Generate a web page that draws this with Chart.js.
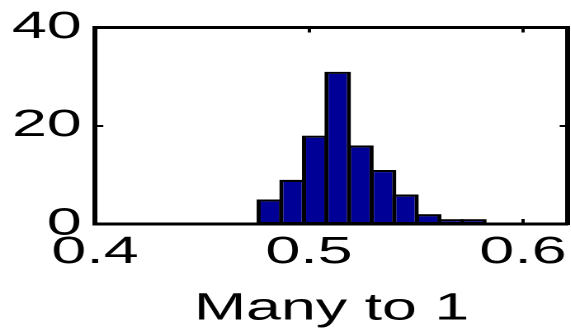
<!DOCTYPE html>
<html>
<head>
<meta charset="utf-8">
<script src="https://cdn.jsdelivr.net/npm/chart.js@4.4.1/dist/chart.umd.min.js"></script>
<style>
  html, body { margin: 0; padding: 0; background: #fff; overflow: hidden; }
  #wrap { width: 346px; height: 332px; transform: scaleX(1.65); transform-origin: 0 0; }
</style>
</head>
<body>
<div id="wrap"><canvas id="c" width="346" height="332"></canvas></div>
<script>
// ---- data ----
const binCenters = [0.4817, 0.4923, 0.5029, 0.5134, 0.5240, 0.5346, 0.5451, 0.5557, 0.5663, 0.5768];
const counts     = [5, 9, 18, 31, 16, 11, 6, 2, 1, 1];
const xTicks      = [0.4, 0.5, 0.6];
const xTickLabels = ['0.4', '0.5', '0.6'];
const yTicks      = [0, 20, 40];
const yTickLabels = ['0', '20', '40'];
const xTitle = 'Many to 1';
const xMin = 0.4, xMax = 0.621, yMin = 0, yMax = 40;

const FONT = { family: '"Liberation Sans", Arial, Helvetica, sans-serif', size: 38 };
const setTicks = (vals) => (s) => { s.ticks = vals.map(v => ({ value: v })); };
const labelFor = (vals, labels) => (v) => { const i = vals.findIndex(t => Math.abs(t - v) < 1e-9); return i >= 0 ? labels[i] : ''; };

const borderOpt = { display: true, color: '#000', width: 3 };
const gridOpt = { drawOnChartArea: false, drawTicks: true, tickLength: -5, tickWidth: 2, color: '#000', offset: false };

function build() {
  new Chart(document.getElementById('c'), {
    type: 'bar',
    data: {
      datasets: [{
        data: binCenters.map((x, i) => ({ x: x, y: counts[i] })),
        backgroundColor: 'rgb(0,0,150)',
        borderColor: '#000',
        borderWidth: { top: 2.2, left: 2.5, right: 2.5, bottom: 1.5 },
        borderSkipped: false,
        barPercentage: 1.18,
        categoryPercentage: 1.0,
        xAxisID: 'x',
        yAxisID: 'y'
      }]
    },
    options: {
      responsive: false,
      animation: false,
      devicePixelRatio: 2,
      layout: { padding: { left: 7.3, right: 1.8, top: 27.5, bottom: 0 } },
      plugins: { legend: { display: false }, tooltip: { enabled: false } },
      scales: {
        x: {
          type: 'linear', position: 'bottom', min: xMin, max: xMax, offset: false,
          afterBuildTicks: setTicks(xTicks),
          ticks: { color: '#000', font: FONT, padding: 10.9, maxRotation: 0, autoSkip: false,
                   callback: labelFor(xTicks, xTickLabels) },
          grid: gridOpt, border: borderOpt,
          title: { display: true, text: xTitle, color: '#000', font: FONT, padding: { top: 0, bottom: 0 } },
          afterFit: (s) => { s.height = 108; s.paddingLeft = 0; s.paddingRight = 0; }
        },
        x2: {
          type: 'linear', position: 'top', min: xMin, max: xMax, offset: false,
          afterBuildTicks: setTicks(xTicks),
          ticks: { display: false },
          grid: gridOpt, border: borderOpt,
          afterFit: (s) => { s.height = 0; s.paddingLeft = 0; s.paddingRight = 0; }
        },
        y: {
          type: 'linear', position: 'left', min: yMin, max: yMax,
          afterBuildTicks: setTicks(yTicks),
          ticks: { color: '#000', font: FONT, padding: 13.1, callback: labelFor(yTicks, yTickLabels) },
          grid: gridOpt, border: borderOpt,
          afterFit: (s) => { s.width = 50.3; s.paddingTop = 0; s.paddingBottom = 0; }
        },
        y2: {
          type: 'linear', position: 'right', min: yMin, max: yMax,
          afterBuildTicks: setTicks(yTicks),
          ticks: { display: false },
          grid: gridOpt, border: borderOpt,
          afterFit: (s) => { s.width = 0; s.paddingTop = 0; s.paddingBottom = 0; }
        }
      }
    }
  });
}
if (document.fonts && document.fonts.load) {
  document.fonts.load('38px "Liberation Sans"').then(build, build);
} else {
  build();
}
</script>
</body>
</html>
